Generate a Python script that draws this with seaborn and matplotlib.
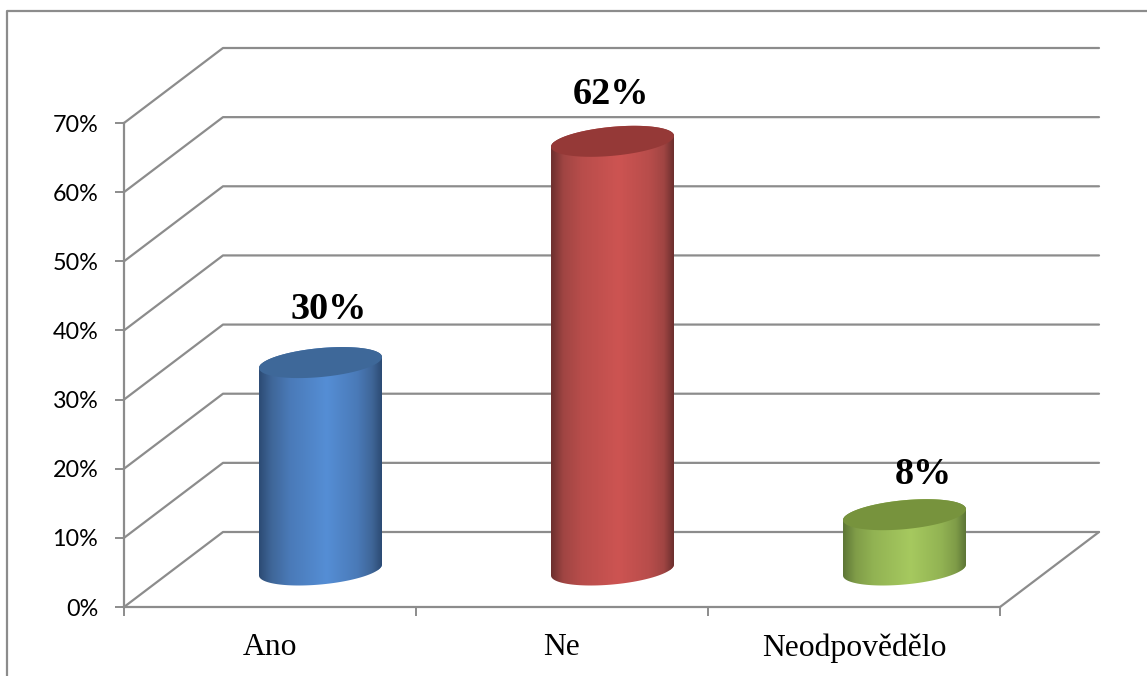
import numpy as np
import pandas as pd
import matplotlib
matplotlib.use("Agg")
import matplotlib.pyplot as plt
import seaborn as sns
from matplotlib.colors import LinearSegmentedColormap
from matplotlib.lines import Line2D
from matplotlib.path import Path
from matplotlib.ticker import FuncFormatter

# values
categories = ["Ano", "Ne", "Neodpovědělo"]
answers = [30, 62, 8]
y_ticks = [0, 10, 20, 30, 40, 50, 60, 70]

# colours for each cylinder, from the edge in to the bright middle, then the top face
base_colors = ["#558ed5", "#cd5452", "#a6c95f"]
edge_colors = ["#2c4b74", "#6c2f2e", "#5d7636"]
side_colors = ["#3f6698", "#a04543", "#7f9c48"]
soft_colors = ["#4a7ab8", "#b84d4b", "#92b353"]
top_colors = ["#3e6899", "#953937", "#77933d"]
label_shift = [(8.5, 44), (-1, 37), (19, 31)]  # pixels from the top of the cylinder

GREY = "#8c8c8c"
W, H = 1147, 676
sns.set_style("white")

fig = plt.figure(figsize=(W / 100, H / 100), dpi=100, facecolor="white")
ax = fig.add_axes([124 / W, 1 - 607 / H, 876 / W, 484 / H])

df = pd.DataFrame({"answer": categories, "percent": answers})
sns.barplot(data=df, x="answer", y="percent", hue="answer", palette=base_colors,
            saturation=1, width=124 / 292, legend=False, ax=ax, zorder=3)

ax.set_xlim(-0.5, 2.5)
ax.set_ylim(0, 70)
ax.set_autoscale_on(False)

# pixel sizes converted to data units
x_px = 1 / 292
y_px = 70 / 484
depth_x, depth_y = 99 * x_px, 75 * y_px     # floor depth
shift_x, shift_y = 50.5 * x_px, 37 * y_px   # bars stand mid-way on the floor

# walls
for v in y_ticks:
    ax.plot([-0.5, -0.5 + depth_x, 2.5 + depth_x], [v, v + depth_y, v + depth_y],
            color=GREY, lw=1.6, clip_on=False, zorder=1)
ax.plot([2.5, 2.5 + depth_x], [0, depth_y], color=GREY, lw=1.6, clip_on=False, zorder=1)

# cylinders on top of the seaborn bars
t_full = np.linspace(0, 2 * np.pi, 120)
t_low = np.linspace(np.pi, 2 * np.pi, 60)
half_w = 61.5 * x_px


def ring(cx, cy, t):
    return cx + half_w * np.cos(t), cy + (5.5 * np.cos(t) + 14.5 * np.sin(t)) * y_px


for i, bar in enumerate(ax.patches):
    cx = bar.get_x() + bar.get_width() / 2 + shift_x
    base = shift_y
    top = bar.get_height() + shift_y

    low_x, low_y = ring(cx, base, t_low)
    body_x, body_y = ring(cx, top, t_full[:60])
    body = Path(np.column_stack([np.r_[low_x, body_x], np.r_[low_y, body_y]]))

    bar.set_x(bar.get_x() + shift_x)
    bar.set_y(shift_y)
    bar.set_clip_path(body, transform=ax.transData)

    cmap = LinearSegmentedColormap.from_list(
        "cyl", [(0, edge_colors[i]), (0.1, side_colors[i]), (0.25, soft_colors[i]),
                (0.55, base_colors[i]), (0.8, soft_colors[i]), (0.92, side_colors[i]),
                (1, edge_colors[i])])
    grad = np.linspace(0, 1, 256).reshape(1, -1)
    im = ax.imshow(grad, cmap=cmap, aspect="auto", zorder=4, interpolation="bilinear",
                   extent=[cx - half_w, cx + half_w, base - 20 * y_px, top + 20 * y_px])
    im.set_clip_path(body, transform=ax.transData)

    cap_x, cap_y = ring(cx, top, t_full)
    ax.fill(cap_x, cap_y, color=top_colors[i], lw=0, zorder=5)

    ax.annotate(f"{answers[i]}%", xy=(cx, top), xytext=label_shift[i],
                textcoords="offset pixels", ha="center", va="baseline", zorder=6,
                family="Liberation Serif", fontweight="bold", fontsize=27.5, color="black")

ax.set_xlim(-0.5, 2.5)
ax.set_ylim(0, 70)
ax.set_xlabel("")
ax.set_ylabel("")
ax.set_facecolor("none")

# axes, ticks
for side in ["top", "right"]:
    ax.spines[side].set_visible(False)
for side in ["left", "bottom"]:
    ax.spines[side].set_color(GREY)
    ax.spines[side].set_linewidth(1.6)
ax.set_yticks(y_ticks)
ax.yaxis.set_major_formatter(FuncFormatter(lambda v, _: f"{v:.0f}%"))
ax.tick_params(axis="y", left=True, length=6.5, width=1.4, color=GREY, pad=12,
               labelsize=16.8, labelcolor="black")
ax.tick_params(axis="x", bottom=False, pad=15.5, labelsize=22.8, labelcolor="black")
ax.set_xticks([-0.5, 0.5, 1.5, 2.5], minor=True)
ax.tick_params(axis="x", which="minor", bottom=True, length=6.5, width=1.4, color=GREY)
for lab in ax.get_yticklabels():
    lab.set_family("Lato")
for lab in ax.get_xticklabels():
    lab.set_family("Liberation Serif")

# outer frame of the chart, cut by the picture edge
fig.add_artist(Line2D([7.5 / W, 7.5 / W, 1], [0, 1 - 11 / H, 1 - 11 / H],
                      color=GREY, lw=1.6, transform=fig.transFigure))

fig.savefig("out.png", dpi=100)
